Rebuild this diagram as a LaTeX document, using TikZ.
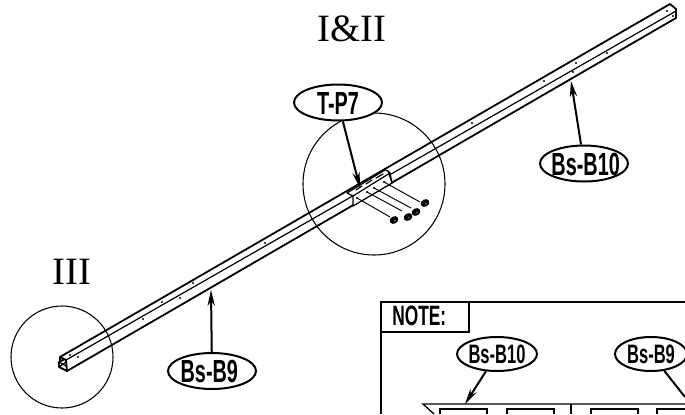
\documentclass[tikz,border=0pt]{standalone}
\usepackage{fontspec}
\setmainfont{Liberation Serif}
\newfontfamily\labfont[FakeStretch=0.62]{Liberation Sans}
\usetikzlibrary{arrows.meta,shapes.geometric}
\newcommand\tagtext[2][0pt]{\smash{\raisebox{-.36em}{\makebox[0pt]{\hspace*{#1}#2}}}}
\tikzset{
  beam/.style={line width=1.35pt,line cap=round,line join=round},
  thinbeam/.style={line width=0.9pt,line cap=round,line join=round},
  detailcircle/.style={draw,circle,line width=0.8pt,inner sep=0pt},
  tag/.style={draw,ellipse,line width=1.5pt,fill=white,inner sep=0pt,minimum width=#1*0.75pt*2,minimum height=27pt,font=\labfont\bfseries\fontsize{24}{26}\selectfont},
  tagsmall/.style={draw,ellipse,line width=1.5pt,fill=white,inner sep=0pt,minimum width=#1*0.75pt*2,minimum height=25.5pt,font=\labfont\bfseries\fontsize{20}{22}\selectfont},
  pointer/.style={line width=1.5pt,-{Stealth[length=12pt,width=5.5pt]}},
  title/.style={font=\fontsize{29}{31}\selectfont,inner sep=0pt},
  notebox/.style={line width=1pt},
  dash line/.style={line width=0.7pt},
  hole/.style={fill=black,circle,inner sep=0pt,minimum size=1.8pt}
}
\begin{document}
\begin{tikzpicture}[x=0.75pt,y=-0.75pt]
\useasboundingbox (0,0) rectangle (685,414);
% detail circles
\node[detailcircle,minimum size=106.5pt] (bigc) at (374,184) {};
\node[detailcircle,minimum size=76.5pt] (leftc) at (62,357) {};
% beam
\draw[beam] (60,357) -- (670,4) -- (676,9) -- (676,18) -- (67,371);
\draw[thinbeam] (66,360) -- (676,11);
\draw[beam] (60,357) -- (60,362) (60,357) -- (66,360) -- (67,371) -- (59,367) -- (59,362) -- (64,359.5);
\draw[thinbeam] (59,362) -- (66,366) (59,367) -- (66,362);
% holes
\foreach \p in {(70,355),(78,357),(143,319),(162,302),(180,298),(193,283),(265,243),(472,123),(544,81),(576,63),(573,72),(607,53),(667,11),(673,16)}
  \node[hole] at \p {};
% bracket
\draw[thinbeam,fill=white] (347,193) -- (385,170) -- (388,171) -- (392,183) -- (353,206) -- (353,196) -- cycle;
\draw[thinbeam] (353,196) -- (390,173);
\draw[thinbeam] (356,190) -- (362,186) (366,184) -- (372,180) (376,178) -- (383,174);
\draw[thinbeam] (392,183) -- (390,173) -- (388,171);
% screws
\foreach \a/\b in {357/198,367/192,374/188,384/182}
  \node[hole] at (\a,\b) {};
\draw[dash line] (357,198) -- (390,217);
\draw[dash line] (367,192) -- (402,211);
\draw[dash line] (374,188) -- (411,208);
\draw[dash line] (384,182) -- (420,202);
\foreach \a/\b in {394/220,408/217,416/212,425/203}{
  \node[fill=black,ellipse,inner sep=0pt,minimum width=6.8pt,minimum height=5.5pt,rotate=30] at (\a,\b) {};
  \node[fill=white,circle,inner sep=0pt,minimum size=1pt] at (\a+1,\b+0.8) {};
}
% titles
\node[title] (t1) at (352,29) {I\&II};
\node[title] (t2) at (72,272) {III};
% tags
\coordinate (tp) at (360,188);
\coordinate (b9p) at (211,290);
\coordinate (b10p) at (571,81);
\node[tag=44] (tp7) at (338,102.5) {\tagtext{T-P7}};
\node[tag=44] (b9) at (212,371) {\tagtext[-4pt]{Bs-B9}};
\node[tag=44] (b10) at (584,163.5) {\tagtext[2.5pt]{Bs-B10}};
\draw[pointer] (tp7) -- (tp);
\draw[pointer] (b9) -- (b9p);
\draw[pointer] (b10) -- (b10p);
% note box
\draw[notebox] (685,302) -- (381,302) -- (381,414);
\draw[notebox] (381,332) -- (469,332) -- (469,302);
\node[font=\labfont\bfseries\fontsize{21}{23}\selectfont,inner sep=0pt,anchor=west] (note) at (392,316) {NOTE:};
\node[tagsmall=40] (nb10) at (497,354) {\tagtext{Bs-B10}};
\node[tagsmall=36] (nb9) at (651,354) {\tagtext{Bs-B9}};
\coordinate (np10) at (465,404);
\coordinate (np9) at (685,397);
\draw[pointer] (nb10) -- (np10);
\draw[line width=1.5pt] (nb9) -- (np9);
\draw[notebox] (434,414) -- (423,404) -- (685,404);
\draw[line width=1.4pt] (571,404) -- (571,414);
\foreach \a/\b in {440/487,507/554,591/638}
  \draw[notebox] (\a,414) -- (\a,409) -- (\b,409) -- (\b,414);
\draw[notebox] (657,414) -- (657,409) -- (685,409);
\end{tikzpicture}
\end{document}
